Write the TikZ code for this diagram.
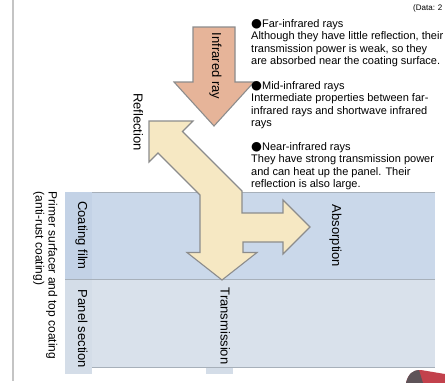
\documentclass[tikz,border=0pt]{standalone}
\usepackage{fontspec}
\setmainfont{Liberation Sans}
\newfontfamily\bulletfont{DejaVu Sans}
\definecolor{coatblue}{HTML}{CAD8EA}
\definecolor{coatlabel}{HTML}{C3D2E6}
\definecolor{panelgrey}{HTML}{D9E1EB}
\definecolor{panellabel}{HTML}{D4DDE8}
\definecolor{edgegrey}{HTML}{A7B0BA}
\definecolor{framegrey}{HTML}{C4C4C4}
\definecolor{arrowgrey}{HTML}{8C8C8C}
\definecolor{rayorange}{HTML}{E6B499}
\definecolor{raybeige}{HTML}{F6E8C3}
\definecolor{heatred}{HTML}{C2414C}
\definecolor{heatdark}{HTML}{5E5358}
\begin{document}
\begin{tikzpicture}[
        x=1pt, y=-1pt,
        band_line/.style={draw=edgegrey, line width=0.8pt},
        label_style/.style={rotate=-90, anchor=base, font=\fontsize{13}{15}\selectfont},
        text_style/.style={anchor=north west, inner sep=0pt, align=left, font=\fontsize{11}{12.4}\selectfont},
        arrow_style/.style={draw=arrowgrey, line width=1.1pt, line join=miter}
    ]
        % Frame
        \clip (0,0) rectangle (445,383);
        \fill[white] (0,0) rectangle (445,383);
        \draw[framegrey, line width=1.5pt] (13,0) -- (13,381);

        % Layers
        \fill[coatblue] (92,192) rectangle (435,279);
        \fill[panelgrey] (92,279) rectangle (435,367);
        \fill[coatlabel] (65,192) rectangle (92,279);
        \fill[panellabel] (65,279) rectangle (92,374);
        \fill[panellabel] (206,367) rectangle (233,374);
        \draw[band_line] (92,192) -- (435,192);
        \draw[band_line] (65,279) -- (435,279);
        \draw[band_line] (92,367) -- (435,367);

        % Incoming ray
        \draw[arrow_style, fill=rayorange] (193,27) -- (235,27) -- (235,82) -- (254,82)
            -- (214,126) -- (174,82) -- (193,82) -- cycle;

        % Reflected, absorbed and transmitted parts
        \draw[arrow_style, fill=raybeige] (149,121) -- (193,121) -- (182.5,131.5) -- (242,191)
            -- (242,213) -- (283,213) -- (283,200) -- (310,227) -- (283,254) -- (283,242)
            -- (243,242) -- (243,252.5) -- (257,252.5) -- (222,280) -- (187,252.5) -- (200,252.5)
            -- (200,195) -- (158,153) -- (149,162) -- cycle;

        % Heater corner
        \fill[heatred] (406,383) .. controls (408,374) and (413,370) .. (421,370) -- (445,374) -- (445,383) -- cycle;
        \fill[heatdark] (406,383) .. controls (408,374) and (413,370) .. (419,370) -- (423,383) -- cycle;

        % Labels
        \node[label_style] (ray_in) at (212,66) {Infrared ray};
        \node[label_style] (reflect) at (133.5,122) {Reflection};
        \node[label_style] (absorb) at (332,236) {Absorption};
        \node[label_style] (transmit) at (220.5,326) {Transmission};
        \node[label_style] (coat_film) at (78,235.5) {Coating film};
        \node[label_style] (panel_sec) at (78,329) {Panel section};
        \node[rotate=-90, anchor=north west, inner sep=0pt, align=left,
            font=\fontsize{12}{13}\selectfont] (primer) at (57.5,191.5)
            {Primer surfacer and top coating\\(anti-rust coating)};

        % Notes
        \node[anchor=west, inner sep=0pt, font=\fontsize{8}{9}\selectfont] (data_note) at (413,8.5) {(Data: 2};
        \node[text_style] (far_ir) at (251,19) {{\bulletfont\fontsize{12.5}{12.4}\selectfont ●}Far-infrared rays\\
            Although they have little reflection, their\\
            transmission power is weak, so they\\
            are absorbed near the coating surface.};
        \node[text_style] (mid_ir) at (251,81) {{\bulletfont\fontsize{12.5}{12.4}\selectfont ●}Mid-infrared rays\\
            Intermediate properties between far-\\
            infrared rays and shortwave infrared\\
            rays};
        \node[text_style] (near_ir) at (251,142) {{\bulletfont\fontsize{12.5}{12.4}\selectfont ●}Near-infrared rays\\
            They have strong transmission power\\
            and can heat up the panel. Their\\
            reflection is also large.};
\end{tikzpicture}
\end{document}
